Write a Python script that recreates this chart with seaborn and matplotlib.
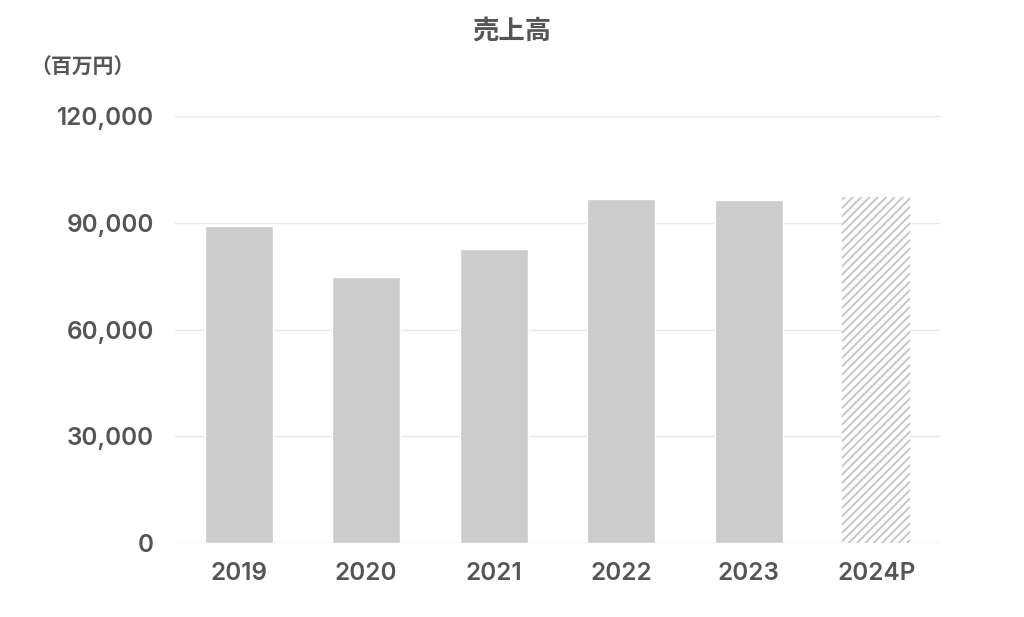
import matplotlib
matplotlib.use("Agg")
import matplotlib.pyplot as plt
import seaborn as sns
import pandas as pd
from matplotlib.ticker import FuncFormatter

# =========================
# DATA
# =========================
years = ["2019", "2020", "2021", "2022", "2023", "2024P"]
sales = [89200, 74700, 82700, 96600, 96400, 97100]
y_ticks = [0, 30000, 60000, 90000, 120000]

df = pd.DataFrame({"year": years, "sales": sales})

# =========================
# STYLE
# =========================
sns.set_style("white")
plt.rcParams["font.family"] = ["Noto Sans CJK JP", "DejaVu Sans"]
plt.rcParams["hatch.color"] = "#c6c6c6"
plt.rcParams["hatch.linewidth"] = 1.4
text_color = "#555555"
num_font = ["Inter", "Noto Sans CJK JP"]

fig = plt.figure(figsize=(10.24, 6.17), dpi=100)
ax = fig.add_axes([175 / 1024, 1 - 543 / 617, 765 / 1024, 427 / 617])

sns.barplot(data=df, x="year", y="sales", color="#cccccc", width=0.53,
            saturation=1, ax=ax, zorder=3)

# forecast bar: hatched
last = ax.patches[-1]
last.set_facecolor("white")
last.set_hatch("////")
last.set_edgecolor("#c6c6c6")
last.set_linewidth(0)

ax.set_xlim(-0.5, 5.5)
ax.set_ylim(0, 120000)
ax.set_yticks(y_ticks)
ax.yaxis.set_major_formatter(FuncFormatter(lambda v, p: f"{int(v):,}"))
ax.grid(axis="y", color="#e8e8e8", linewidth=1, zorder=0)
for s in ["top", "right", "left", "bottom"]:
    ax.spines[s].set_visible(False)
ax.axhline(0, color="#e0e0e0", linewidth=1, zorder=4)

ax.tick_params(axis="both", length=0, colors=text_color, labelsize=17.5)
ax.tick_params(axis="x", pad=14)
ax.tick_params(axis="y", pad=15)
for lbl in ax.get_xticklabels() + ax.get_yticklabels():
    lbl.set_family(num_font)
    lbl.set_fontweight("semibold")
ax.set_xlabel("")
ax.set_ylabel("")

fig.text(512 / 1024, 1 - 31 / 617, "売上高", ha="center", va="center",
         fontsize=19, fontweight="bold", color=text_color)
fig.text(30 / 1024, 1 - 67 / 617, "（百万円）", ha="left", va="center",
         fontsize=15, fontweight="bold", color=text_color)

plt.savefig("out.png", dpi=100)
